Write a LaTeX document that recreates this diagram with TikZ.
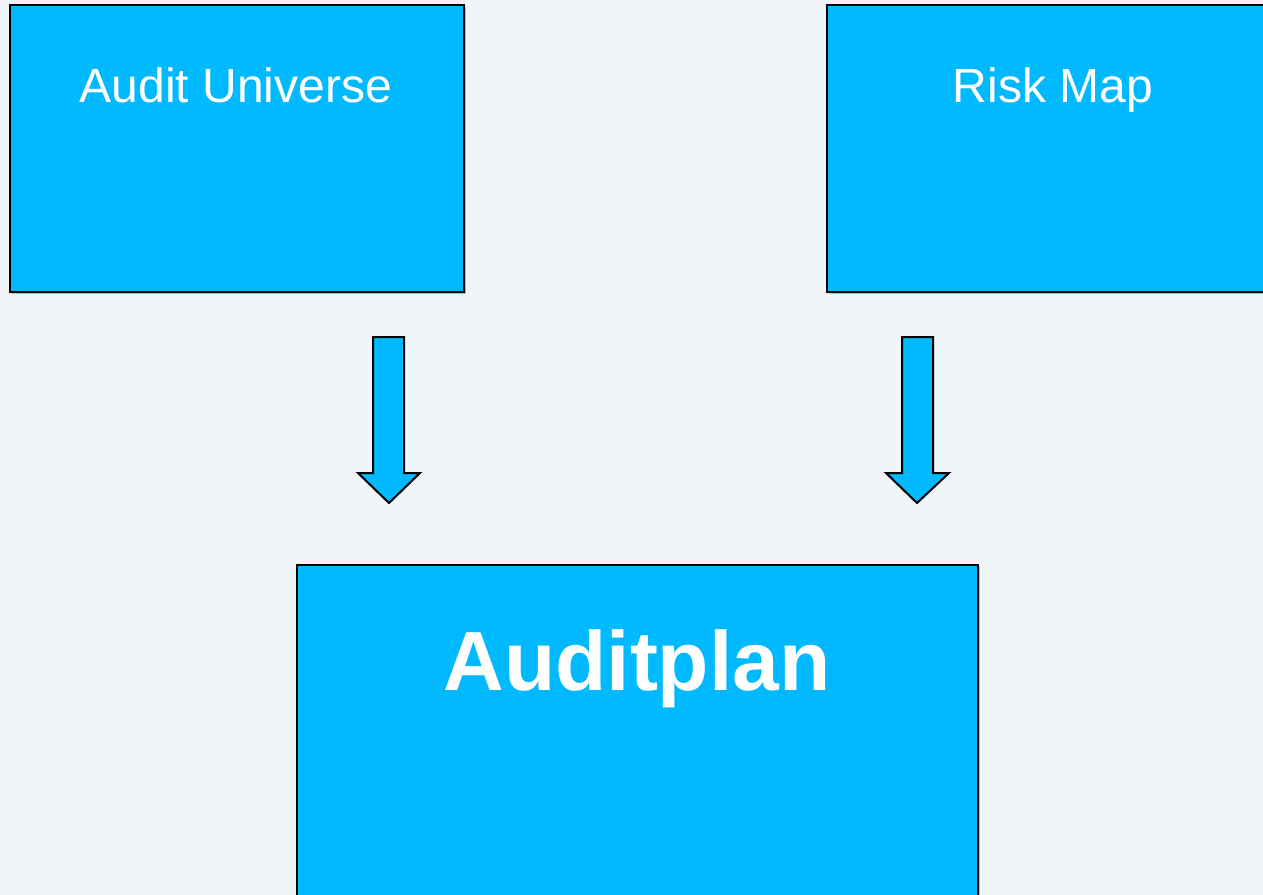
\documentclass[tikz,border=0pt]{standalone}
\usepackage{fontspec}
\setmainfont{Liberation Sans}
\usetikzlibrary{shadows}
\definecolor{bg}{HTML}{F0F5FA}
\definecolor{boxblue}{HTML}{00B9FF}
\tikzset{
  panel/.style={draw=black, line width=2pt, fill=boxblue,
    drop shadow={shadow xshift=1.5pt, shadow yshift=-1.5pt, fill=black!45, opacity=0.6}},
  downarrow/.style={draw=black, line width=2pt, fill=boxblue, line join=miter},
  label/.style={text=white, anchor=base, inner sep=0pt}
}
\begin{document}
\begin{tikzpicture}[x=1pt, y=-1pt]
  \useasboundingbox (0,0) rectangle (1263,894);
  \begin{scope}
    \clip (0,0) rectangle (1263,894);
    \path[fill=bg] (-10,-10) rectangle (1273,904);
    % input panels
    \path[panel] (10,5) rectangle (464,292);
    \path[panel] (827,5) rectangle (1275,292);
    % result panel
    \path[panel] (297,565) rectangle (978,910);
  \end{scope}
  \node[label, font=\fontsize{48}{58}\selectfont] (universe) at (236,102) {Audit Universe};
  \node[label, font=\fontsize{48}{58}\selectfont] (riskmap) at (1053,102) {Risk Map};
  \node[label, font=\bfseries\fontsize{84}{100}\selectfont] (plan) at (637,690) {Auditplan};
  % block arrows from the inputs down to the plan
  \draw[downarrow] (373,337) -- (404,337) -- (404,473) -- (420,473) -- (389,503)
    -- (358,473) -- (373,473) -- cycle;
  \draw[downarrow] (902,337) -- (933,337) -- (933,473) -- (949,473) -- (917,503)
    -- (886,473) -- (902,473) -- cycle;
\end{tikzpicture}
\end{document}
